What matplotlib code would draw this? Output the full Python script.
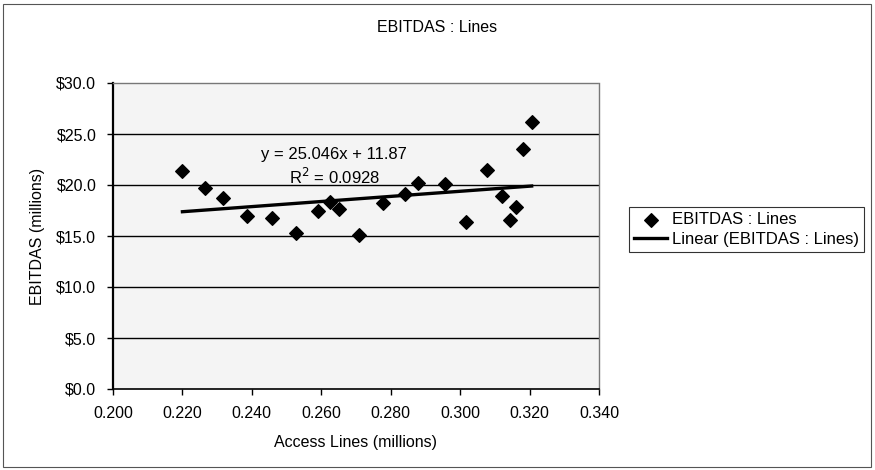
import numpy as np
import matplotlib
matplotlib.use("Agg")
import matplotlib.pyplot as plt
from matplotlib.patches import Rectangle

plt.rcParams['font.family'] = ['Liberation Sans', 'DejaVu Sans']

# access lines (millions) vs EBITDAS ($ millions)
access_lines = [0.2200, 0.2264, 0.2316, 0.2385, 0.2458, 0.2526, 0.2590,
                0.2624, 0.2652, 0.2709, 0.2778, 0.2840, 0.2879, 0.2956,
                0.3018, 0.3076, 0.3121, 0.3143, 0.3160, 0.3182, 0.3206]
ebitdas = [21.4, 19.7, 18.7, 17.0, 16.8, 15.3, 17.5,
           18.3, 17.6, 15.1, 18.2, 19.1, 20.2, 20.1,
           16.4, 21.5, 18.9, 16.6, 17.8, 23.5, 26.2]

# trend line as printed on the chart
slope = 25.046
intercept = 11.87
r_squared = 0.0928

x_ticks = [0.200, 0.220, 0.240, 0.260, 0.280, 0.300, 0.320, 0.340]
y_ticks = [0, 5, 10, 15, 20, 25, 30]

fs = 11.5

fig = plt.figure(figsize=(8.75, 4.7), dpi=100)
ax = fig.add_axes([113 / 875, 1 - 389 / 470, 486 / 875, 306 / 470])
ax.set_facecolor('#f4f4f4')

for yv in y_ticks[1:-1]:
    ax.axhline(yv, color='black', lw=1.0, zorder=1)

ax.scatter(access_lines, ebitdas, marker='D', s=48, color='black',
           zorder=3, label='EBITDAS : Lines')

xs = np.array([min(access_lines), max(access_lines)])
ax.plot(xs, slope * xs + intercept, color='black', lw=2.4, zorder=2,
        label='Linear (EBITDAS : Lines)')

ax.text(0.2637, 23.0, "y = %.3fx + %.2f" % (slope, intercept),
        ha='center', va='center', fontsize=12)
ax.text(0.2637, 20.8, r"R$^2$ = %.4f" % r_squared, ha='center',
        va='center', fontsize=12)

ax.set_xlim(0.2, 0.34)
ax.set_ylim(0, 30)
ax.set_xticks(x_ticks)
ax.set_xticklabels(["%.3f" % v for v in x_ticks], fontsize=fs)
ax.set_yticks(y_ticks)
ax.set_yticklabels(["$%.1f" % v for v in y_ticks], fontsize=fs)
ax.tick_params(direction='out', length=4, width=1, color='black', pad=8)

ax.spines['left'].set_linewidth(1.6)
ax.spines['bottom'].set_linewidth(1.2)
for side in ['top', 'right']:
    ax.spines[side].set_linestyle((0, (1, 1)))
    ax.spines[side].set_color('#777777')
    ax.spines[side].set_linewidth(1.0)

ax.set_xlabel("Access Lines (millions)", fontsize=fs, labelpad=10)
ax.set_ylabel("EBITDAS (millions)", fontsize=fs, labelpad=8)

fig.text(437 / 875, 1 - 27 / 470, "EBITDAS : Lines", ha='center',
         va='center', fontsize=fs)

leg = fig.legend(loc='upper left', bbox_to_anchor=(629 / 875, 1 - 207 / 470),
                 frameon=True, fancybox=False, fontsize=12,
                 handlelength=2.0, handletextpad=0.3, borderpad=0.3,
                 labelspacing=0.3, borderaxespad=0)
leg.get_frame().set_edgecolor('black')
leg.get_frame().set_linewidth(0.8)

fig.patches.append(Rectangle((3 / 875, 3 / 470), 868 / 875, 463 / 470,
                             transform=fig.transFigure, fill=False,
                             edgecolor='#555555', lw=0.8))

fig.savefig("out.png", dpi=100)
